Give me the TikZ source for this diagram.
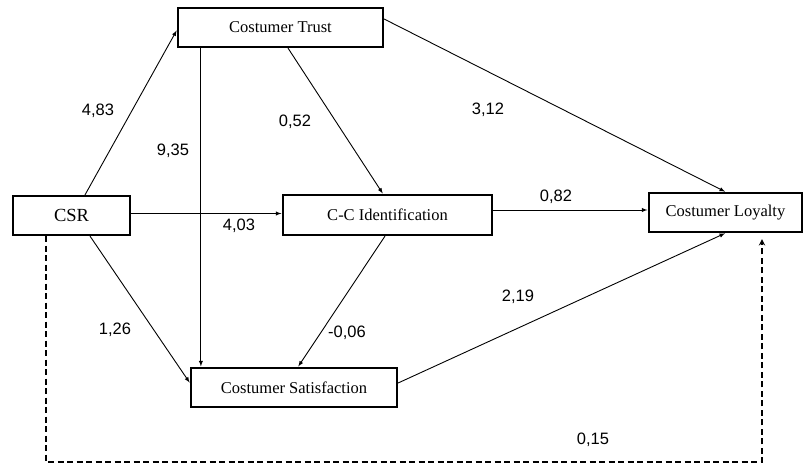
\documentclass[tikz,border=0pt]{standalone}
\usepackage{fontspec}
\setmainfont{Liberation Serif}
\newfontfamily\labelfont{Liberation Sans}
\usetikzlibrary{shapes,arrows,positioning,calc}

\begin{document}
\begin{tikzpicture}[x=1pt,y=-1pt,
    box/.style={draw,line width=2.2pt,rectangle,inner sep=0pt,minimum height=39,font=\fontsize{16.5}{19}\selectfont},
    path/.style={->,>=latex,line width=0.9pt,shorten >=0.5pt},
    coef/.style={font=\labelfont\fontsize{16.5}{19}\selectfont}]
\useasboundingbox (0,0) rectangle (806,466);

% Constructs
\node[box,minimum width=205] (trust) at (280.5,27.5) {Costumer Trust};
\node[box,minimum width=117] (csr) at (71.5,215.5) {\fontsize{18.5}{21}\selectfont CSR};
\node[box,minimum width=209,minimum height=40] (cc) at (387.5,215) {C-C Identification};
\node[box,minimum width=153] (loyal) at (725.5,212.5) {Costumer Loyalty};
\node[box,minimum width=206] (sat) at (294,387.5) {Costumer Satisfaction};

% Paths
\draw[path] ([xshift=13.5]csr.north) -- ([yshift=-2.5]trust.west);
\draw[path] ([xshift=24]trust.south west) -- ([xshift=24]trust.south west |- sat.north);
\draw[path] ([xshift=7.5]trust.south) -- ([xshift=-4.5]cc.north);
\draw[path] ([yshift=8.5]trust.east) -- (loyal.north);
\draw[path] ([yshift=2]csr.east) -- ([yshift=2]csr.east -| cc.west);
\draw[path] ([yshift=5]cc.east) -- ([yshift=5]cc.east -| loyal.west);
\draw[path] ([xshift=-2.5]cc.south) -- ([xshift=4]sat.north);
\draw[path] ([xshift=18.5]csr.south) -- ([yshift=4.5]sat.west);
\draw[path] ([yshift=4.5]sat.east) -- (loyal.south);

% Direct effect (dashed)
\coordinate (dl) at (46,462);
\coordinate (dr) at (762,462);
\draw[->,>=stealth,line width=1.8pt,dash pattern=on 6pt off 3.5pt,shorten >=6pt] ([xshift=-25.5]csr.south) -- (dl) -- (dr) -- ([xshift=36.5]loyal.south);

% Coefficients
\node[coef] (c1) at (98,111) {4,83};
\node[coef] (c2) at (173,151) {9,35};
\node[coef] (c3) at (295,122) {0,52};
\node[coef] (c4) at (488,110) {3,12};
\node[coef] (c5) at (239,226) {4,03};
\node[coef] (c6) at (556,197) {0,82};
\node[coef] (c7) at (115,330) {1,26};
\node[coef] (c8) at (347,333) {-0,06};
\node[coef] (c9) at (518,297) {2,19};
\node[coef] (c10) at (593,440) {0,15};

\end{tikzpicture}
\end{document}
